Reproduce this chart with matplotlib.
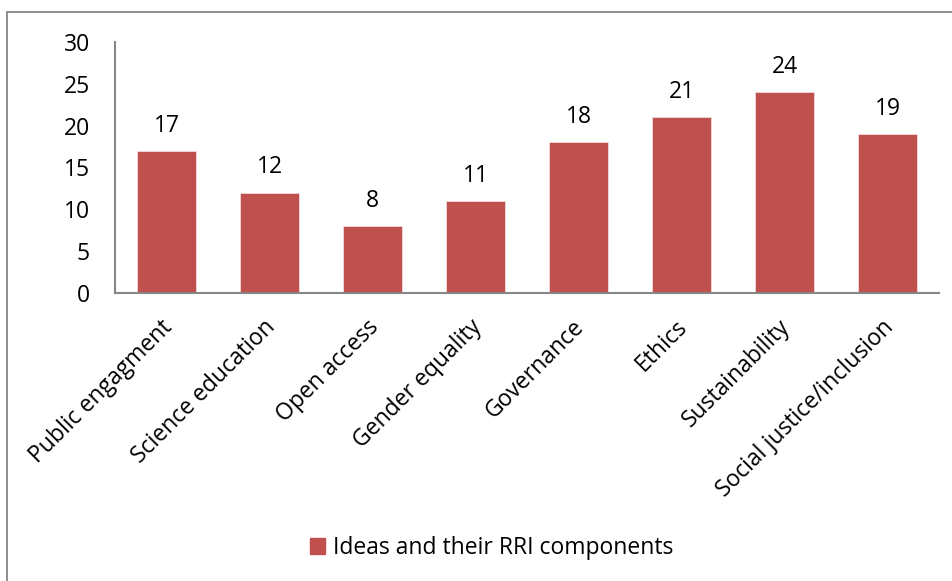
import matplotlib
matplotlib.use("Agg")
import matplotlib.pyplot as plt
from matplotlib.patches import Rectangle, Patch
from matplotlib.transforms import ScaledTranslation
import numpy as np

categories = ["Public engagment", "Science education", "Open access", "Gender equality",
              "Governance", "Ethics", "Sustainability", "Social justice/inclusion"]
counts = [17, 12, 8, 11, 18, 21, 24, 19]
series_name = "Ideas and their RRI components"
y_ticks = [0, 5, 10, 15, 20, 25, 30]

BAR = "#C0504D"
AXIS = "#868686"
FS = 16.5
plt.rcParams["font.family"] = ["Open Sans", "DejaVu Sans"]

W, H = 953, 581
fig = plt.figure(figsize=(W / 100, H / 100), dpi=100)

# outer chart-area frame
fig.patches.append(Rectangle((7 / W, -0.1), 2.0, 1 - 12 / H + 0.1, transform=fig.transFigure,
                             fill=False, edgecolor=AXIS, linewidth=1.3))

ax = fig.add_axes([115 / W, 1 - 293 / H, (939 - 115) / W, (293 - 42) / H])
x = np.arange(len(categories))
ax.bar(x, counts, width=0.57, color=BAR, edgecolor="#F2DCDB", linewidth=0.6)

ax.set_xlim(-0.5, len(categories) - 0.5)
ax.set_ylim(0, 30)
ax.set_yticks(y_ticks)
ax.tick_params(axis="y", length=0, labelsize=FS, pad=18)
ax.set_xticks(x)
ax.set_xticklabels(categories, rotation=45, ha="right", va="top", rotation_mode="anchor", fontsize=FS)
ax.tick_params(axis="x", length=0, pad=16)
shift = ScaledTranslation(-6 / 100, 0, fig.dpi_scale_trans)
for lbl in ax.get_xticklabels():
    lbl.set_transform(lbl.get_transform() + shift)

for s in ["top", "right"]:
    ax.spines[s].set_visible(False)
for s in ["left", "bottom"]:
    ax.spines[s].set_color(AXIS)
    ax.spines[s].set_linewidth(1.5)

for xi, v in zip(x, counts):
    ax.annotate(str(v), (xi, v), xytext=(0, 9.5), textcoords="offset points",
                ha="center", va="bottom", fontsize=FS)

handle = Patch(facecolor=BAR, edgecolor=BAR)
fig.legend([handle], [series_name], loc="center", bbox_to_anchor=(492 / W, 1 - 548 / H),
           frameon=False, fontsize=FS, handlelength=0.65, handleheight=0.65, handletextpad=0.35)

fig.savefig("out.png", dpi=100)
